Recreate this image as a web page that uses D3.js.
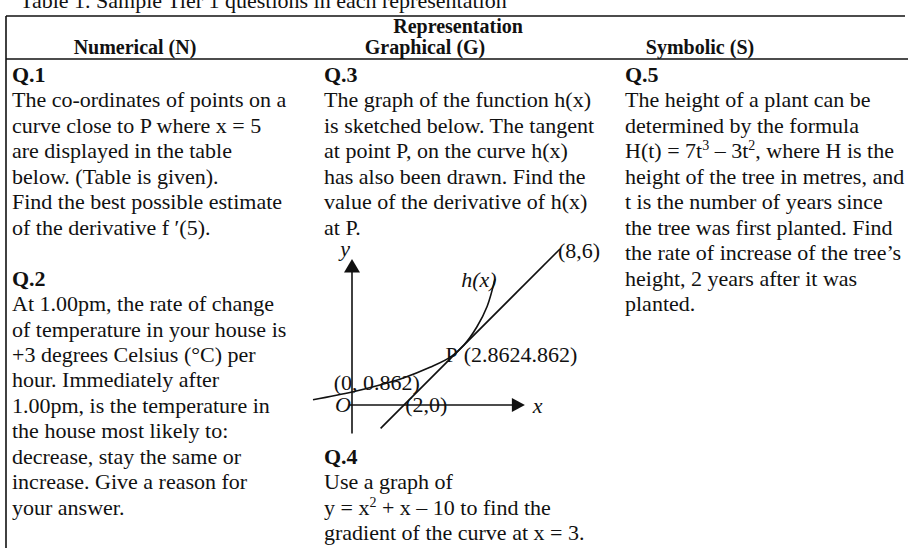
<!DOCTYPE html>
<html>
<head>
<meta charset="utf-8">
<script src="https://cdn.jsdelivr.net/npm/d3@7"></script>
<style>
  html, body { margin: 0; padding: 0; background: #fff; }
  svg text { font-family: "Liberation Serif", "Times New Roman", serif; fill: #111; }
</style>
</head>
<body>
<div id="chart"></div>
<script>
// table content, one entry per printed line ("^" marks a superscript digit)
var title = "Table 1. Sample Tier 1 questions in each representation";
var headTop = "Representation";
var headCols = ["Numerical (N)", "Graphical (G)", "Symbolic (S)"];

var col1Lines = ["*Q.1", "The co-ordinates of points on a", "curve close to P where x = 5",
  "are displayed in the table", "below. (Table is given).", "Find the best possible estimate",
  "of the derivative f \u2032(5).", "", "*Q.2", "At 1.00pm, the rate of change",
  "of temperature in your house is", "+3 degrees Celsius (\u00b0C) per", "hour. Immediately after",
  "1.00pm, is the temperature in", "the house most likely to:", "decrease, stay the same or",
  "increase. Give a reason for", "your answer."];
var col2Lines = ["*Q.3", "The graph of the function h(x)", "is sketched below. The tangent",
  "at point P, on the curve h(x)", "has also been drawn. Find the", "value of the derivative of h(x)",
  "at P.", "", "", "", "", "", "", "", "", "*Q.4", "Use a graph of",
  "y = x^2 + x \u2013 10 to find the", "gradient of the curve at x = 3."];
var col3Lines = ["*Q.5", "The height of a plant can be", "determined by the formula",
  "H(t) = 7t^3 \u2013 3t^2, where H is the", "height of the tree in metres, and",
  "t is the number of years since", "the tree was first planted. Find",
  "the rate of increase of the tree\u2019s", "height, 2 years after it was", "planted."];

// sketch of h(x) and its tangent at P
var curvePts = [[-1.5, 0.2], [0, 0.5], [1, 0.75], [2, 1.05], [3, 1.45], [3.8, 1.85],
  [4.3, 2.3], [4.8, 3.0], [5.2, 3.8], [5.5, 4.85]];
var tangentPts = [[1.1, -0.9], [8, 6]];
var graphLabels = [
  {t: "(8,6)", x: 8, y: 6, dx: -2, dy: 9},
  {t: "h(x)", x: 4.2, y: 4.8, dx: 0, dy: 7, it: true},
  {t: "P", x: 3.75, y: 1.9, dx: -4, dy: 6},
  {t: "(2.8624.862)", x: 4.3, y: 1.9, dx: 0, dy: 6},
  {t: "(0, 0.862)", x: -0.7, y: 0.7, dx: 0, dy: 3},
  {t: "(2,0)", x: 2.05, y: 0, dx: 0, dy: 7},
  {t: "O", x: -0.65, y: 0, dx: 0, dy: 7, it: true},
  {t: "x", x: 6.95, y: 0, dx: 0, dy: 8, it: true},
  {t: "y", x: -0.45, y: 5.75, dx: 0, dy: 0, it: true}
];

var width = 914, height = 548;
var fs = 22, lh = 25.45, firstBase = 82;
var colX = [12, 324, 625];

var svg = d3.select("#chart").append("svg")
  .attr("width", width).attr("height", height);

// title, mostly cut off at the top edge
svg.append("text").attr("x", 20).attr("y", 8).attr("font-size", 22).text(title);

// table rules
var rule = svg.append("g").attr("stroke", "#111").attr("stroke-width", 1.6);
rule.append("line").attr("x1", 6).attr("x2", 905).attr("y1", 16).attr("y2", 16);
rule.append("line").attr("x1", 6).attr("x2", 908).attr("y1", 59).attr("y2", 59);
rule.append("line").attr("x1", 6).attr("x2", 6).attr("y1", 16).attr("y2", height);

// header
svg.append("text").attr("x", 458).attr("y", 33).attr("text-anchor", "middle")
  .attr("font-size", 20).attr("font-weight", "bold").text(headTop);
var headX = [135, 425, 700];
svg.selectAll("text.head").data(headCols).join("text").attr("class", "head")
  .attr("x", function(d, i) { return headX[i]; }).attr("y", 54)
  .attr("text-anchor", "middle").attr("font-size", 20).attr("font-weight", "bold")
  .text(function(d) { return d; });

function writeLines(lines, x) {
  lines.forEach(function(line, i) {
    if (!line) return;
    var t = svg.append("text").attr("x", x).attr("y", firstBase + i * lh).attr("font-size", fs);
    if (line[0] === "*") {
      t.attr("font-weight", "bold").text(line.slice(1));
      return;
    }
    var parts = line.split(/\^(\d)/);
    var back = 0;
    parts.forEach(function(p, k) {
      if (p === "") return;
      if (k % 2 === 1) {
        t.append("tspan").attr("dy", -8 + back).attr("font-size", 14).text(p);
        back = 8;
      } else {
        t.append("tspan").attr("dy", back).text(p);
        back = 0;
      }
    });
  });
}
writeLines(col1Lines, colX[0]);
writeLines(col2Lines, colX[1]);
writeLines(col3Lines, colX[2]);

// graph
var gx = d3.scaleLinear().domain([0, 8]).range([352, 560]);
var gy = d3.scaleLinear().domain([0, 6]).range([405, 249]);
var g = svg.append("g").attr("stroke", "#111").attr("fill", "none").attr("stroke-width", 1.6);

// axes with arrowheads
g.append("line").attr("x1", gx(0)).attr("x2", gx(0)).attr("y1", gy(-1.1)).attr("y2", gy(5.2));
g.append("line").attr("x1", gx(-0.1)).attr("x2", gx(6.3)).attr("y1", gy(0)).attr("y2", gy(0));
g.append("path").attr("fill", "#111").attr("stroke", "none")
  .attr("d", "M" + gx(0) + "," + gy(5.62) + "L" + (gx(0) - 8) + "," + gy(5.1) +
    "L" + (gx(0) + 8) + "," + gy(5.1) + "Z");
g.append("path").attr("fill", "#111").attr("stroke", "none")
  .attr("d", "M" + gx(6.65) + "," + gy(0) + "L" + gx(6.15) + "," + (gy(0) - 7) +
    "L" + gx(6.15) + "," + (gy(0) + 7) + "Z");

var line = d3.line().x(function(d) { return gx(d[0]); }).y(function(d) { return gy(d[1]); });
g.append("path").attr("d", line.curve(d3.curveCatmullRom)(curvePts));
g.append("path").attr("d", d3.line().x(function(d) { return gx(d[0]); })
  .y(function(d) { return gy(d[1]); })(tangentPts));

svg.selectAll("text.glab").data(graphLabels).join("text").attr("class", "glab")
  .attr("x", function(d) { return gx(d.x) + d.dx; })
  .attr("y", function(d) { return gy(d.y) + d.dy; })
  .attr("font-size", fs)
  .attr("font-style", function(d) { return d.it ? "italic" : "normal"; })
  .text(function(d) { return d.t; });
</script>
</body>
</html>
